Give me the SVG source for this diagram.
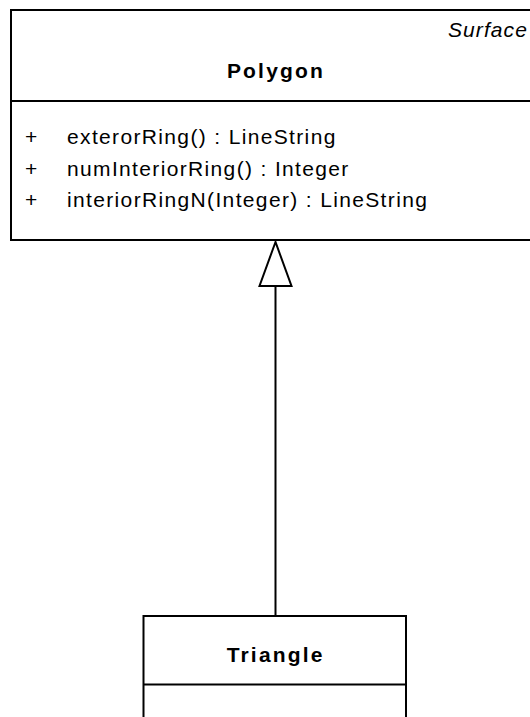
<svg xmlns="http://www.w3.org/2000/svg" width="530" height="717" viewBox="0 0 530 717">
<style>
.box{fill:#fff;stroke:#000;stroke-width:2}
.sep{stroke:#000;stroke-width:2}
.t{font-family:"Liberation Sans",Arial,sans-serif;font-size:21px;fill:#000;letter-spacing:1.35px}
.b{font-weight:bold;text-anchor:middle;letter-spacing:2.2px}
.i{font-style:italic;text-anchor:end;letter-spacing:1.1px}
.conn{stroke:#000;stroke-width:2;fill:none}
.head{fill:#fff;stroke:#000;stroke-width:2}
</style>
<rect width="530" height="717" fill="#fff"/>
<g id="connectors">
<line class="conn" x1="275.5" y1="616" x2="275.5" y2="286"/>
<polygon class="head" points="275.5,242 259.5,286 291.5,286"/>
</g>
<g id="polygon">
<rect class="box" x="11" y="10" width="530" height="230"/>
<line class="sep" x1="11" y1="101" x2="541" y2="101"/>
<text class="t i" x="528" y="37">Surface</text>
<text class="t b" x="276" y="78">Polygon</text>
<text class="t" x="25" y="144">+</text>
<text class="t" x="67" y="144">exterorRing() : LineString</text>
<text class="t" x="25" y="175.5">+</text>
<text class="t" x="67" y="175.5">numInteriorRing() : Integer</text>
<text class="t" x="25" y="207">+</text>
<text class="t" x="67" y="207">interiorRingN(Integer) : LineString</text>
</g>
<g id="triangle">
<rect class="box" x="143.5" y="616" width="262.5" height="120"/>
<line class="sep" x1="143.5" y1="684.5" x2="406" y2="684.5"/>
<text class="t b" x="275.7" y="662">Triangle</text>
</g>
</svg>
